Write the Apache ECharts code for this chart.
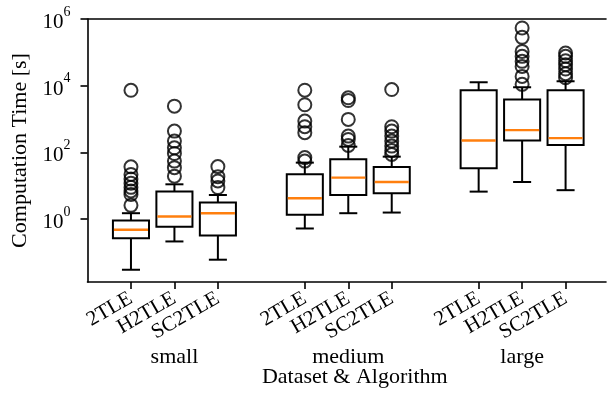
<!DOCTYPE html>
<html>
<head>
<meta charset="utf-8">
<script src="https://cdn.jsdelivr.net/npm/echarts@6/dist/echarts.min.js"></script>
<style>html,body{margin:0;padding:0;background:#fff}#c{width:607px;height:393px}</style>
</head>
<body>
<div id="c"></div>
<script>
// ---- data (seconds) ----
const datasets = ['small', 'medium', 'large'];
const algorithms = ['2TLE', 'H2TLE', 'SC2TLE'];
const positions = [1, 2, 3, 5, 6, 7, 9, 10, 11];
const groupCenters = [2, 6, 10];
// [whiskerLow, Q1, median, Q3, whiskerHigh] per box
const boxStats = [
  [0.0305, 0.27, 0.48, 0.91, 1.51],
  [0.215, 0.59, 1.2, 6.7, 11.1],
  [0.061, 0.325, 1.51, 3.15, 5.3],
  [0.526, 1.35, 4.25, 22.1, 49.5],
  [1.51, 5.33, 17.6, 62.2, 149],
  [1.58, 5.98, 13.0, 36.6, 74.8],
  [6.7, 33.5, 229, 7350, 12700],
  [13, 229, 468, 3860, 9000],
  [7.4, 166, 269, 7350, 13600]
];
const outliers = [
  [7300, 37, 22, 16, 12, 9, 7, 5.5, 2.6],
  [2440, 437, 219, 138, 93, 55, 35, 19.5],
  [37.6, 18.8, 14, 8.9],
  [7350, 2690, 870, 590, 390, 70, 55],
  [4350, 3610, 977, 309, 245, 162],
  [7690, 589, 437, 309, 219, 155, 115, 87],
  [],
  [537000, 282000, 107000, 75900, 53700, 38000, 19000, 11000],
  [95500, 75900, 56200, 42700, 31600, 22900, 17400]
];
const yTicks = [1, 100, 10000, 1000000];

// ---- build ----
const tickName = {};
positions.forEach((p, i) => { tickName[p] = algorithms[i % 3]; });
const groupName = {};
groupCenters.forEach((p, i) => { groupName[p] = datasets[i]; });

const boxData = positions.map((p, i) => [p].concat(boxStats[i]));
const outData = [];
positions.forEach((p, i) => outliers[i].forEach(v => outData.push([p, v])));

const FONT = 'Liberation Serif';
const BOX_W = 0.83;
const xMax = 11.93;

const chart = echarts.init(document.getElementById('c'), null, {renderer: 'canvas'});
chart.setOption({
  animation: false,
  backgroundColor: '#fff',
  grid: {left: 87.5, top: 19, right: 1, bottom: 110},
  xAxis: [{
    type: 'value', min: 0, max: xMax, position: 'bottom',
    splitLine: {show: false},
    axisLine: {show: true, lineStyle: {color: '#000', width: 1.6}},
    axisTick: {show: true, length: 7, lineStyle: {color: '#000', width: 1.6}, customValues: positions},
    axisLabel: {
      customValues: positions, rotate: 30, margin: 15,
      fontFamily: FONT, fontSize: 21, color: '#000',
      formatter: v => tickName[v] || ''
    },
    name: 'Dataset & Algorithm', nameLocation: 'middle', nameGap: 84,
    nameTextStyle: {fontFamily: FONT, fontSize: 22, color: '#000', padding: [0, 0, 0, 16]}
  }, {
    type: 'value', min: 0, max: xMax, position: 'bottom',
    splitLine: {show: false}, axisLine: {show: false}, axisTick: {show: false},
    axisLabel: {
      customValues: groupCenters, margin: 64,
      fontFamily: FONT, fontSize: 22, color: '#000',
      formatter: v => groupName[v] || ''
    }
  }, {
    type: 'value', min: 0, max: xMax, position: 'top',
    splitLine: {show: false}, axisTick: {show: false}, axisLabel: {show: false},
    axisLine: {show: true, lineStyle: {color: '#000', width: 1.6}}
  }],
  yAxis: {
    type: 'log', logBase: 10, min: Math.pow(10, -1.883), max: 1e6,
    splitLine: {show: false},
    axisLine: {show: true, lineStyle: {color: '#000', width: 1.6}},
    axisTick: {show: true, length: 7, lineStyle: {color: '#000', width: 1.6}, customValues: yTicks},
    axisLabel: {
      customValues: yTicks, margin: 17, color: '#000',
      formatter: v => '{b|10}{s|' + Math.round(Math.log10(v)) + '}',
      rich: {
        b: {fontFamily: FONT, fontSize: 21, lineHeight: 28, verticalAlign: 'bottom', color: '#000'},
        s: {fontFamily: FONT, fontSize: 14, lineHeight: 14, verticalAlign: 'top', color: '#000'}
      }
    },
    name: 'Computation Time [s]', nameLocation: 'middle', nameGap: 47,
    nameTextStyle: {fontFamily: FONT, fontSize: 22, color: '#000'}
  },
  series: [{
    type: 'custom',
    data: boxData,
    encode: {x: 0, y: [1, 2, 3, 4, 5]},
    renderItem: function (params, api) {
      const x = api.value(0);
      const lo = api.coord([x, api.value(1)]);
      const q1 = api.coord([x, api.value(2)]);
      const md = api.coord([x, api.value(3)]);
      const q3 = api.coord([x, api.value(4)]);
      const hi = api.coord([x, api.value(5)]);
      const left = api.coord([x - BOX_W / 2, api.value(3)])[0];
      const right = api.coord([x + BOX_W / 2, api.value(3)])[0];
      const cx = md[0];
      const half = (right - left) / 4;
      const st = {stroke: '#000', lineWidth: 2, fill: null};
      return {
        type: 'group',
        children: [
          {type: 'line', shape: {x1: cx, y1: q1[1], x2: cx, y2: lo[1]}, style: st},
          {type: 'line', shape: {x1: cx, y1: q3[1], x2: cx, y2: hi[1]}, style: st},
          {type: 'line', shape: {x1: cx - half, y1: lo[1], x2: cx + half, y2: lo[1]}, style: st},
          {type: 'line', shape: {x1: cx - half, y1: hi[1], x2: cx + half, y2: hi[1]}, style: st},
          {type: 'rect', shape: {x: left, y: q3[1], width: right - left, height: q1[1] - q3[1]}, style: {stroke: '#000', lineWidth: 2, fill: '#fff'}},
          {type: 'line', shape: {x1: left + 1, y1: md[1], x2: right - 1, y2: md[1]}, style: {stroke: '#ff7f0e', lineWidth: 2.4}}
        ]
      };
    }
  }, {
    type: 'scatter',
    data: outData,
    symbol: 'circle', symbolSize: 13,
    itemStyle: {color: 'rgba(0,0,0,0)', borderColor: '#000', borderWidth: 2},
    z: 3
  }]
});
</script>
</body>
</html>
